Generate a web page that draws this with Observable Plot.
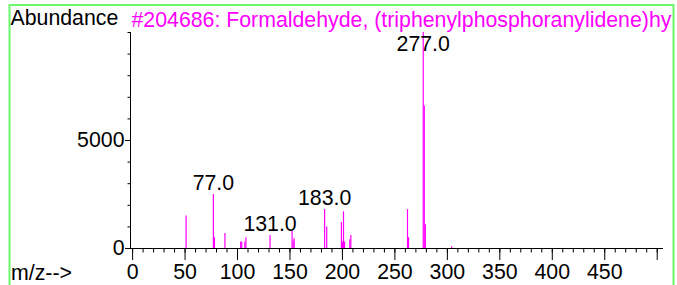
<!DOCTYPE html>
<html>
<head>
<meta charset="utf-8">
<script src="https://cdn.jsdelivr.net/npm/d3@7"></script>
<script src="https://cdn.jsdelivr.net/npm/@observablehq/plot@0.6"></script>
<style>
  html, body { margin: 0; padding: 0; background: #ffffff; }
  #chart { position: relative; width: 677px; height: 285px; overflow: hidden; }
</style>
</head>
<body>
<div id="chart"></div>
<script>
// ---- data ----
const mzValues = [51, 77, 78, 88, 103, 104, 107, 108, 131, 152, 153, 154, 183, 185, 199, 200, 201, 202, 207, 208, 262, 263, 277, 278, 279, 304];
const abundances = [1500, 2500, 500, 700, 300, 300, 300, 500, 600, 800, 350, 450, 1800, 1000, 1200, 300, 1700, 300, 400, 600, 1800, 500, 9999, 6600, 1100, 80];
const peakLabels = [77, 131, 183, 277];
const xMajorTicks = [0, 50, 100, 150, 200, 250, 300, 350, 400, 450, 500];
const xLabelTicks = [0, 50, 100, 150, 200, 250, 300, 350, 400, 450];
const yMajorTicks = [0, 5000];
const xDomain = [-2, 506];
const yDomain = [0, 10000];
const titleText = "#204686: Formaldehyde, (triphenylphosphoranylidene)hy";
const yTitle = "Abundance";
const xTitle = "m/z-->";

const peaks = mzValues.map((mz, i) => ({mz, ab: abundances[i]}));
const labelRows = peakLabels.map(mz => ({mz, ab: Math.min(abundances[mzValues.indexOf(mz)], 8900), text: mz.toFixed(1)}));
const xMinor = d3.range(0, 501, 10);
const yMinor = d3.range(0, 10001, 1000);

const font = "'Liberation Sans', Arial, Helvetica, sans-serif";
const fs = 21.3;

const chart = Plot.plot({
  width: 677,
  height: 285,
  marginLeft: 130,
  marginRight: 14,
  marginTop: 32,
  marginBottom: 37,
  style: {fontFamily: font, fontSize: fs + "px", color: "#000", background: "transparent", overflow: "visible"},
  x: {domain: xDomain},
  y: {domain: yDomain},
  marks: [
    Plot.ruleX(peaks, {x: "mz", y1: 0, y2: "ab", stroke: "#ff00ff", strokeWidth: 1.2}),
    Plot.ruleY([yDomain[0]], {stroke: "#000", strokeWidth: 1}),
    Plot.ruleX([xDomain[0]], {stroke: "#000", strokeWidth: 1}),
    Plot.axisX({ticks: xMinor, tickSize: 4.5, tickFormat: () => "", label: null, stroke: "#000"}),
    Plot.axisX({ticks: xMajorTicks, tickSize: 12, tickPadding: 3, label: null, stroke: "#000",
      tickFormat: d => xLabelTicks.includes(d) ? String(d) : "", fontSize: fs, fill: "#000"}),
    Plot.axisY({ticks: yMinor, tickSize: 2.5, tickFormat: () => "", label: null, stroke: "#000"}),
    Plot.axisY({ticks: yMajorTicks, tickSize: 5, tickPadding: 1, label: null, stroke: "#000",
      tickFormat: d => String(d), fontSize: fs, fill: "#000"}),
    Plot.text(labelRows, {x: "mz", y: "ab", text: "text", dy: -5, lineAnchor: "bottom", fontSize: fs, fill: "#000"})
  ]
});

const svg = d3.select(chart);
svg.append("path")
  .attr("d", "M9.5,290V5H673.5V290")
  .attr("fill", "none")
  .attr("stroke", "#6cf76c")
  .attr("stroke-width", 2);
const addText = (x, y, color, str) => svg.append("text")
  .attr("x", x).attr("y", y)
  .attr("text-anchor", "start")
  .attr("font-family", font).attr("font-size", fs)
  .attr("fill", color)
  .text(str);
addText(10.5, 25, "#000", yTitle);
addText(131.5, 26.7, "#ff00ff", titleText);
addText(11, 280, "#000", xTitle);

document.getElementById("chart").appendChild(chart);
</script>
</body>
</html>
